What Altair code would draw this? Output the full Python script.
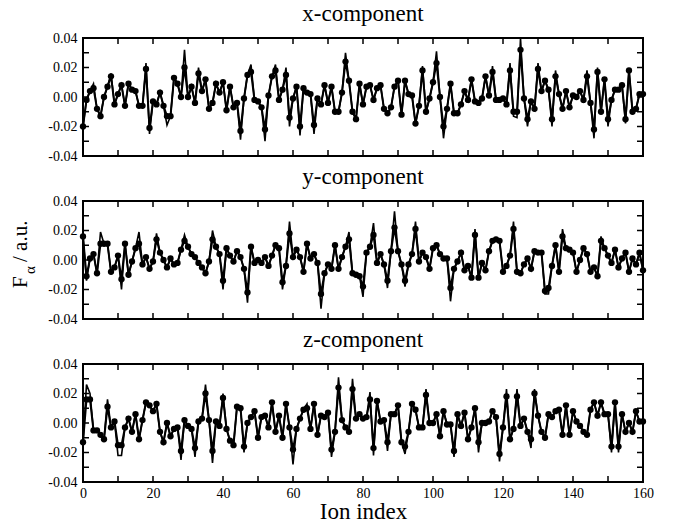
import altair as alt
import pandas as pd

SERIF = "Liberation Serif, Times New Roman, serif"

ion_index = list(range(161))

fx = [-0.020, -0.002, 0.004, 0.006, -0.008, -0.013, 0.000, 0.007, 0.014, -0.005,
      0.002, 0.008, -0.006, 0.009, 0.005, 0.004, -0.006, -0.006, 0.019, -0.021,
      -0.003, -0.005, 0.003, -0.006, -0.013, -0.013, 0.013, 0.009, 0.000, 0.020,
      0.000, 0.007, -0.004, 0.016, 0.004, 0.012, -0.008, -0.004, 0.009, 0.003,
      0.010, -0.009, 0.007, -0.007, -0.004, -0.023, -0.001, 0.015, 0.017, -0.002,
      -0.003, -0.007, -0.022, 0.001, 0.014, 0.018, -0.002, 0.005, 0.015, -0.014,
      -0.001, 0.007, -0.020, 0.006, 0.003, 0.002, -0.019, -0.001, -0.005, 0.008,
      -0.004, 0.007, -0.010, -0.010, 0.003, 0.024, 0.011, -0.010, -0.015, 0.009,
      -0.005, 0.007, 0.008, -0.002, 0.006, 0.008, -0.008, -0.011, -0.007, 0.007,
      0.011, -0.012, 0.011, 0.002, 0.001, -0.018, -0.006, 0.018, -0.010, -0.001,
      0.010, 0.023, 0.000, -0.020, -0.008, 0.009, -0.011, -0.011, -0.005, 0.004,
      -0.002, 0.012, -0.003, -0.004, -0.001, 0.014, 0.001, 0.017, -0.002, -0.002,
      -0.001, -0.005, 0.018, -0.010, -0.010, 0.032, -0.001, -0.015, -0.003, -0.008,
      0.019, 0.004, 0.011, 0.005, -0.015, 0.014, 0.002, -0.008, 0.004, -0.007,
      0.001, 0.000, 0.004, -0.002, 0.014, -0.004, -0.022, 0.017, -0.010, 0.012,
      -0.015, -0.002, 0.005, 0.005, 0.008, -0.015, 0.018, -0.010, -0.008, 0.002,
      0.002]

fy = [0.016, -0.011, 0.001, 0.004, -0.009, 0.011, 0.011, 0.011, -0.008, -0.005,
      0.003, -0.013, 0.011, -0.010, -0.001, 0.008, 0.011, -0.003, 0.002, -0.006,
      -0.001, 0.014, 0.005, 0.000, -0.005, 0.001, -0.003, -0.002, 0.007, 0.013,
      0.009, 0.004, 0.002, -0.002, -0.005, -0.009, -0.001, 0.014, 0.009, 0.004,
      -0.014, 0.008, 0.003, -0.001, 0.006, 0.002, -0.006, -0.022, 0.009, -0.002,
      0.000, -0.002, 0.002, -0.004, 0.003, 0.010, 0.008, -0.015, -0.004, 0.018,
      0.002, 0.007, 0.002, -0.008, 0.011, 0.001, 0.004, -0.002, -0.023, -0.009,
      -0.003, -0.006, 0.010, -0.006, 0.002, 0.009, 0.014, -0.009, -0.010, -0.011,
      -0.018, 0.005, 0.009, 0.017, -0.002, 0.004, -0.003, -0.014, 0.006, 0.022,
      0.006, -0.003, -0.014, -0.003, 0.004, 0.021, -0.001, 0.005, 0.002, -0.006,
      0.008, 0.010, 0.004, 0.001, 0.001, -0.019, -0.006, -0.001, 0.005, -0.007,
      -0.004, -0.012, 0.017, -0.012, -0.002, -0.007, 0.006, 0.013, 0.014, 0.013,
      -0.008, -0.004, 0.003, 0.021, -0.008, -0.009, -0.003, 0.001, -0.006, 0.006,
      0.005, 0.005, -0.021, -0.019, -0.004, 0.010, -0.008, 0.016, 0.008, 0.007,
      0.005, -0.008, 0.000, 0.008, 0.004, -0.008, -0.005, -0.011, 0.013, 0.008,
      0.003, -0.002, 0.007, -0.005, 0.001, 0.005, -0.008, 0.001, -0.003, 0.005,
      -0.007]

fz = [-0.013, 0.016, 0.016, -0.005, -0.005, -0.008, -0.011, 0.011, -0.003, 0.001,
      -0.015, -0.015, -0.003, 0.003, -0.006, 0.006, -0.011, 0.002, 0.014, 0.012,
      0.008, 0.013, -0.006, -0.013, 0.000, -0.009, -0.004, -0.003, -0.019, 0.002,
      -0.002, -0.004, -0.017, 0.001, 0.003, 0.020, 0.002, -0.019, 0.001, -0.002,
      0.017, -0.004, -0.012, -0.015, 0.011, 0.010, -0.016, 0.000, 0.004, 0.008,
      -0.010, 0.004, 0.005, -0.003, 0.014, -0.006, 0.005, -0.010, 0.013, -0.003,
      -0.018, -0.004, 0.003, 0.009, 0.010, -0.004, 0.013, -0.008, 0.005, 0.004,
      0.007, -0.018, -0.006, 0.024, 0.002, -0.003, -0.006, 0.023, 0.003, 0.006,
      0.003, 0.004, 0.016, -0.017, 0.015, 0.001, 0.002, -0.013, 0.006, 0.006,
      0.012, -0.013, -0.016, -0.006, 0.013, 0.009, -0.003, -0.003, 0.019, 0.000,
      0.000, 0.006, -0.009, 0.008, -0.001, -0.001, -0.019, 0.006, -0.002, 0.007,
      -0.011, -0.003, 0.010, -0.013, 0.000, 0.000, 0.001, 0.008, 0.004, -0.021,
      -0.003, 0.018, -0.011, -0.004, 0.018, -0.002, 0.003, -0.006, -0.011, 0.020,
      0.005, -0.006, -0.010, 0.006, 0.004, 0.008, 0.009, -0.008, 0.012, -0.008,
      0.008, 0.001, -0.002, -0.006, -0.008, 0.009, 0.014, 0.005, 0.014, 0.006,
      0.006, -0.016, 0.014, -0.016, 0.006, -0.006, 0.000, -0.006, 0.008, 0.001,
      0.001]

# second (line-only) curve: indices where it departs from the dotted curve
x_ref_idx = [3, 8, 18, 19, 24, 29, 33, 45, 48, 52, 55, 58, 59, 62, 66, 75, 97, 101,
             103, 117, 122, 123, 124, 125, 127, 130, 134, 135, 144, 146, 147, 150, 155]
x_ref_val = [0.009, 0.016, 0.023, -0.025, -0.019, 0.032, 0.020, -0.029, 0.022, -0.030,
             0.022, 0.020, -0.020, -0.026, -0.025, 0.030, 0.021, 0.031, -0.028, 0.021,
             0.023, -0.013, -0.014, 0.040, -0.020, 0.023, -0.020, 0.018, 0.018, -0.028,
             0.020, -0.020, -0.018]

y_ref_idx = [1, 5, 11, 16, 21, 29, 37, 40, 47, 57, 59, 68, 76, 80, 83, 87, 89, 92,
             95, 105, 112, 118, 123, 132, 133, 137, 148]
y_ref_val = [-0.014, 0.019, -0.020, 0.019, 0.018, 0.017, 0.020, -0.020, -0.029, -0.020,
             0.026, -0.033, 0.019, -0.025, 0.025, -0.019, 0.033, -0.018, 0.026, -0.028,
             0.021, 0.015, 0.026, -0.023, -0.023, 0.021, 0.016]

z_ref_idx = [1, 2, 7, 10, 11, 28, 32, 35, 37, 40, 46, 60, 64, 71, 73, 77, 82, 83,
             87, 92, 98, 106, 113, 119, 121, 124, 128, 129, 151, 153]
z_ref_val = [0.026, 0.020, 0.016, -0.022, -0.022, -0.025, -0.023, 0.026, -0.027, 0.020,
             -0.020, -0.028, 0.013, -0.023, 0.031, 0.030, 0.021, -0.022, -0.019, -0.021,
             0.023, -0.023, -0.020, -0.026, 0.023, 0.023, -0.017, 0.023, -0.020, -0.020]

panel_titles = ["x-component", "y-component", "z-component"]
x_label_vals = [0, 20, 40, 60, 80, 100, 120, 140, 160]
x_tick_vals = list(range(0, 161, 10))
y_label_vals = [-0.04, -0.02, 0.0, 0.02, 0.04]
y_tick_vals = [-0.04, -0.03, -0.02, -0.01, 0.0, 0.01, 0.02, 0.03, 0.04]

W, H = 560, 118
TICK = 6


def panel(vals, ridx, rval, title, bottom, ylabel):
    ref = list(vals)
    for k, v in zip(ridx, rval):
        ref[k] = v
    df = pd.DataFrame({"i": ion_index, "f": vals, "r": ref})
    xscale = alt.Scale(domain=[0, 160], nice=False, zero=False)
    yscale = alt.Scale(domain=[-0.04, 0.04], nice=False, zero=False)
    if bottom:
        xaxis = alt.Axis(values=x_label_vals, title="Ion index", titleFont=SERIF,
                         titleFontSize=23, titleFontWeight="normal", titleColor="black",
                         labelFont=SERIF, labelFontSize=14, labelColor="black",
                         ticks=False, domain=False, grid=False, labelPadding=4,
                         titlePadding=0, labelFlush=False, format="d")
    else:
        xaxis = None
    yaxis = alt.Axis(values=y_label_vals, title=None, ticks=False, domain=False, grid=False,
                     labelFont=SERIF, labelFontSize=14, labelColor="black", labelPadding=6,
                     labelFlush=False,
                     labelExpr="replace(format(datum.value, '.2f'), '\u2212', '-')")
    X = lambda f: alt.X(f, type="quantitative", scale=xscale, axis=xaxis)
    Y = lambda f: alt.Y(f, type="quantitative", scale=yscale, axis=yaxis)

    refline = alt.Chart(df).mark_line(color="black", strokeWidth=1.6).encode(
        x=X("i"), y=Y("r"))
    mainline = alt.Chart(df).mark_line(
        color="black", strokeWidth=2,
        point=alt.OverlayMarkDef(filled=True, color="black", size=40, opacity=1),
    ).encode(x=X("i"), y=Y("f"))

    xt = pd.DataFrame({"t": x_tick_vals})
    yt = pd.DataFrame({"t": y_tick_vals})
    rule = dict(color="black", strokeWidth=1.5)
    xt_top = alt.Chart(xt).mark_rule(**rule).encode(
        x=X("t"), y=alt.value(0), y2=alt.value(TICK))
    xt_bot = alt.Chart(xt).mark_rule(**rule).encode(
        x=X("t"), y=alt.value(H), y2=alt.value(H - TICK))
    yt_left = alt.Chart(yt).mark_rule(**rule).encode(
        y=Y("t"), x=alt.value(0), x2=alt.value(TICK))
    yt_right = alt.Chart(yt).mark_rule(**rule).encode(
        y=Y("t"), x=alt.value(W), x2=alt.value(W - TICK))

    ttl = alt.Chart(pd.DataFrame({"s": [title]})).mark_text(
        font=SERIF, fontSize=23, color="black", align="center", baseline="alphabetic"
    ).encode(text="s:N", x=alt.value(W / 2), y=alt.value(-17))

    layers = [refline, mainline, xt_top, xt_bot, yt_left, yt_right, ttl]

    if ylabel:
        common = dict(angle=270, align="left", baseline="alphabetic", font=SERIF,
                      color="black")
        layers.append(alt.Chart(pd.DataFrame({"s": ["F"]})).mark_text(
            fontSize=21, **common).encode(text="s:N", x=alt.value(-56), y=alt.value(87)))
        layers.append(alt.Chart(pd.DataFrame({"s": ["\u03b1"]})).mark_text(
            fontSize=15, **common).encode(text="s:N", x=alt.value(-48), y=alt.value(73)))
        layers.append(alt.Chart(pd.DataFrame({"s": ["/ a.u."]})).mark_text(
            fontSize=21, **common).encode(text="s:N", x=alt.value(-56), y=alt.value(61)))

    return alt.layer(*layers).properties(width=W, height=H)


p1 = panel(fx, x_ref_idx, x_ref_val, panel_titles[0], False, False)
p2 = panel(fy, y_ref_idx, y_ref_val, panel_titles[1], False, True)
p3 = panel(fz, z_ref_idx, z_ref_val, panel_titles[2], True, False)

chart = alt.vconcat(p1, p2, p3, spacing=45, bounds="flush").properties(
    padding={"left": 1, "top": -6, "right": 5, "bottom": 0},
    background="white",
).configure_view(stroke="black", strokeWidth=2)

chart.save("out.html", embed_options={"renderer": "svg", "actions": False})
